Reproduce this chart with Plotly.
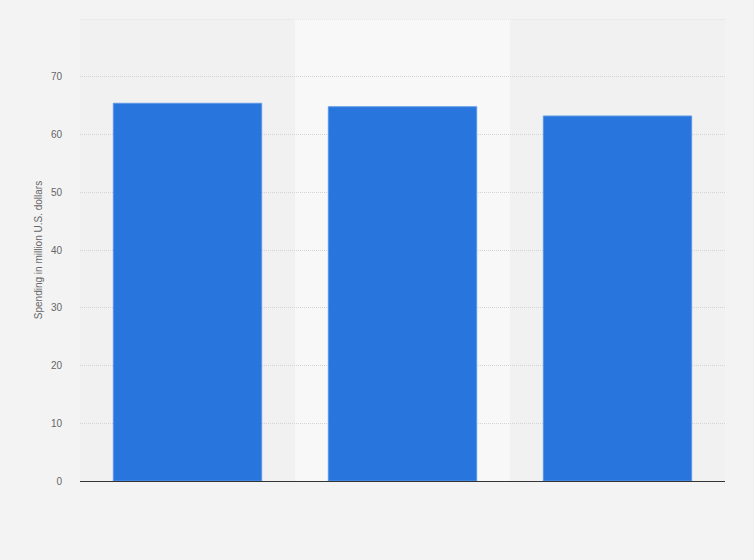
import plotly.graph_objects as go

categories = ["A", "B", "C"]
values = [65.4, 64.8, 63.2]
y_ticks = [0, 10, 20, 30, 40, 50, 60, 70]

fig = go.Figure()
fig.add_trace(go.Bar(
    x=categories, y=values,
    marker=dict(color="#2876dd", line=dict(color="#5a96e6", width=1)),
    width=0.69,
))

fig.add_shape(type="rect", xref="x", yref="paper", x0=0.5, x1=1.5, y0=0, y1=1,
              fillcolor="#f8f8f8", line=dict(width=0), layer="below")

fig.update_layout(
    width=754, height=560,
    paper_bgcolor="#f3f3f3", plot_bgcolor="#f1f1f1",
    margin=dict(l=80, r=29, t=19, b=79),
    showlegend=False,
    font=dict(family="Liberation Sans, Arial, sans-serif", color="#666666"),
    xaxis=dict(showticklabels=False, showgrid=False, zeroline=False,
               showline=True, linecolor="#333333", linewidth=1,
               range=[-0.5, 2.5]),
    yaxis=dict(range=[0, 80], tickvals=y_ticks, ticktext=[str(v) for v in y_ticks],
               showgrid=True, gridcolor="#d4d4d4", griddash="1px,1px", gridwidth=1,
               zeroline=False, tickfont=dict(size=10, color="#666666"),
               ticks="", ticklabelstandoff=17,
               title=dict(text="Spending in million U.S. dollars",
                          font=dict(size=10, color="#666666"), standoff=6)),
    bargap=0.31,
)
# top gridline at 80 without label
fig.add_shape(type="line", xref="paper", yref="y", x0=0, x1=1, y0=80, y1=80,
              line=dict(color="#d4d4d4", width=1, dash="1px,1px"), layer="below")

fig.write_html("out.html", config={"displayModeBar": False},
               post_script="document.body.style.margin='0';document.body.style.overflow='hidden';")
